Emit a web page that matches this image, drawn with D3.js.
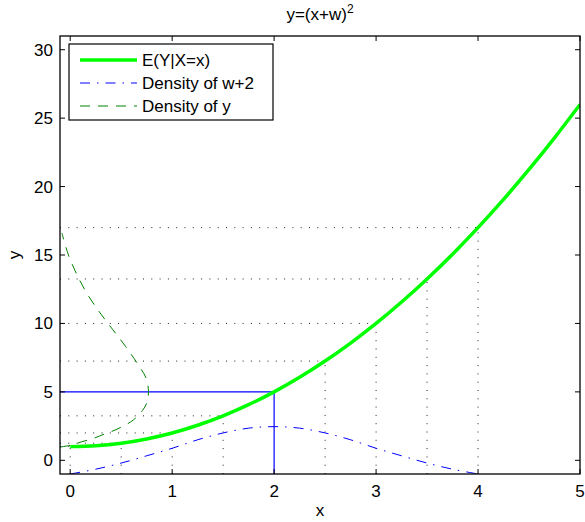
<!DOCTYPE html>
<html><head><meta charset="utf-8">
<script src="https://cdn.jsdelivr.net/npm/d3@7"></script>
<style>body{margin:0;background:#fff}svg{display:block}text{font-family:"Liberation Sans",Arial,sans-serif;fill:#000}</style>
</head><body><svg id="c" width="585" height="522"></svg>
<script>
// E(Y|X=x) curve
const meanX = [0,0.25,0.5,0.75,1,1.25,1.5,1.75,2,2.25,2.5,2.75,3,3.25,3.5,3.75,4,4.25,4.5,4.75,5];
const meanY = [1,1.0625,1.25,1.5625,2,2.5625,3.25,4.0625,5,6.0625,7.25,8.5625,10,11.5625,13.25,15.0625,17,19.0625,21.25,23.5625,26];
// Density of w+2 (scaled)
const densWX = [0,0.25,0.5,0.75,1,1.25,1.5,1.75,2,2.25,2.5,2.75,3,3.25,3.5,3.75,4];
const densWY = [-1.0,-0.65,-0.2,0.33,0.88,1.5,2.0,2.35,2.46,2.35,2.0,1.5,0.88,0.33,-0.2,-0.65,-1.0];
// Density of y (plotted sideways)
const densYx = [-0.1,0.016,0.114,0.212,0.336,0.44,0.54,0.62,0.708,0.75,0.766,0.766,0.745,0.668,0.545,0.414,0.303,0.179,0.075,-0.017,-0.081];
const densYy = [0.97,1.12,1.36,1.56,1.92,2.21,2.58,2.95,3.63,4.17,4.77,5.26,6.0,6.97,8.30,9.58,10.67,12.01,13.42,15.0,16.6];
// guide points
const guideX = [0,0.5,1,1.5,2.5,3,3.5,4];
const guideY = [1,1.25,2,3.25,7.25,10,13.25,17];
const markX = 2, markY = 5;
const xTicks = [0,1,2,3,4,5];
const yTicks = [0,5,10,15,20,25,30];
const legendLabels = ["E(Y|X=x)","Density of w+2","Density of y"];

const L=60,R=580,T=36,B=474;
const x = d3.scaleLinear().domain([-0.1,5]).range([L,R]);
const y = d3.scaleLinear().domain([-1,31]).range([B,T]);
const svg = d3.select("#c");
const g = svg.append("g");
const FS = 17;

svg.append("defs").append("clipPath").attr("id","clip").append("rect")
  .attr("x",L).attr("y",T).attr("width",R-L).attr("height",B-T);
const plot = g.append("g").attr("clip-path","url(#clip)");

// dotted guides
guideX.forEach((gx,i)=>{
  plot.append("line").attr("x1",x(gx)).attr("x2",x(gx)).attr("y1",y(-1)).attr("y2",y(guideY[i]))
    .attr("stroke","#222").attr("stroke-width",1).attr("stroke-dasharray","1,7.3");
  plot.append("line").attr("x1",x(-0.1)).attr("x2",x(gx)).attr("y1",y(guideY[i])).attr("y2",y(guideY[i]))
    .attr("stroke","#222").attr("stroke-width",1).attr("stroke-dasharray","1,7.3");
});
// blue solid marker lines
plot.append("line").attr("x1",x(-0.1)).attr("x2",x(markX)).attr("y1",y(markY)).attr("y2",y(markY))
  .attr("stroke","#0000ff").attr("stroke-width",1.2);
plot.append("line").attr("x1",x(markX)).attr("x2",x(markX)).attr("y1",y(-1)).attr("y2",y(markY))
  .attr("stroke","#0000ff").attr("stroke-width",1.2);

// density of w+2
const lineW = d3.line().x(d=>x(d[0])).y(d=>y(d[1])).curve(d3.curveCatmullRom);
plot.append("path").attr("d",lineW(densWX.map((v,i)=>[v,densWY[i]])))
  .attr("fill","none").attr("stroke","#0000ff").attr("stroke-width",1)
  .attr("stroke-dasharray","10,7,1.5,7");
// density of y
plot.append("path").attr("d",lineW(densYx.map((v,i)=>[v,densYy[i]])))
  .attr("fill","none").attr("stroke","#008000").attr("stroke-width",1)
  .attr("stroke-dasharray","10,8");
// mean curve
plot.append("path").attr("d",lineW(meanX.map((v,i)=>[v,meanY[i]])))
  .attr("fill","none").attr("stroke","#00ff00").attr("stroke-width",3.5);

// axes box and ticks
const ax = g.append("g");
const tl = 5;
xTicks.forEach(t=>{
  ax.append("line").attr("x1",x(t)).attr("x2",x(t)).attr("y1",B).attr("y2",B-tl).attr("stroke","#000");
  ax.append("line").attr("x1",x(t)).attr("x2",x(t)).attr("y1",T).attr("y2",T+tl).attr("stroke","#000");
  ax.append("text").attr("x",x(t)).attr("y",B+23).attr("text-anchor","middle").attr("font-size",FS).text(d3.format("d")(t));
});
yTicks.forEach(t=>{
  ax.append("line").attr("x1",L).attr("x2",L+tl).attr("y1",y(t)).attr("y2",y(t)).attr("stroke","#000");
  ax.append("line").attr("x1",R).attr("x2",R-tl).attr("y1",y(t)).attr("y2",y(t)).attr("stroke","#000");
  ax.append("text").attr("x",L-7).attr("y",y(t)).attr("dy","0.35em").attr("text-anchor","end").attr("font-size",FS).text(d3.format("d")(t));
});
ax.append("rect").attr("x",L).attr("y",T).attr("width",R-L).attr("height",B-T)
  .attr("fill","none").attr("stroke","#000").attr("stroke-width",1.3);

// labels
g.append("text").attr("x",(L+R)/2).attr("y",516).attr("text-anchor","middle").attr("font-size",FS).text("x");
g.append("text").attr("transform",`translate(20,${(T+B)/2}) rotate(-90)`).attr("text-anchor","middle").attr("font-size",FS).text("y");
const title = g.append("text").attr("x",(L+R)/2).attr("y",20).attr("text-anchor","middle").attr("font-size",FS);
title.append("tspan").text("y=(x+w)");
title.append("tspan").attr("dy",-7).attr("font-size",12).text("2");

// legend
const lg = g.append("g");
lg.append("rect").attr("x",69).attr("y",44).attr("width",204).attr("height",76)
  .attr("fill","#fff").attr("stroke","#000").attr("stroke-width",1.2);
const styles = [
  {c:"#00ff00",w:3.5,da:null},
  {c:"#0000ff",w:1,da:"10,7,1.5,7"},
  {c:"#008000",w:1,da:"10,8"}
];
legendLabels.forEach((lab,i)=>{
  const ly = 60 + i*23;
  lg.append("line").attr("x1",80).attr("x2",137).attr("y1",ly).attr("y2",ly)
    .attr("stroke",styles[i].c).attr("stroke-width",styles[i].w).attr("stroke-dasharray",styles[i].da);
  lg.append("text").attr("x",142).attr("y",ly).attr("dy","0.35em").attr("font-size",FS).text(lab);
});
</script></body></html>
